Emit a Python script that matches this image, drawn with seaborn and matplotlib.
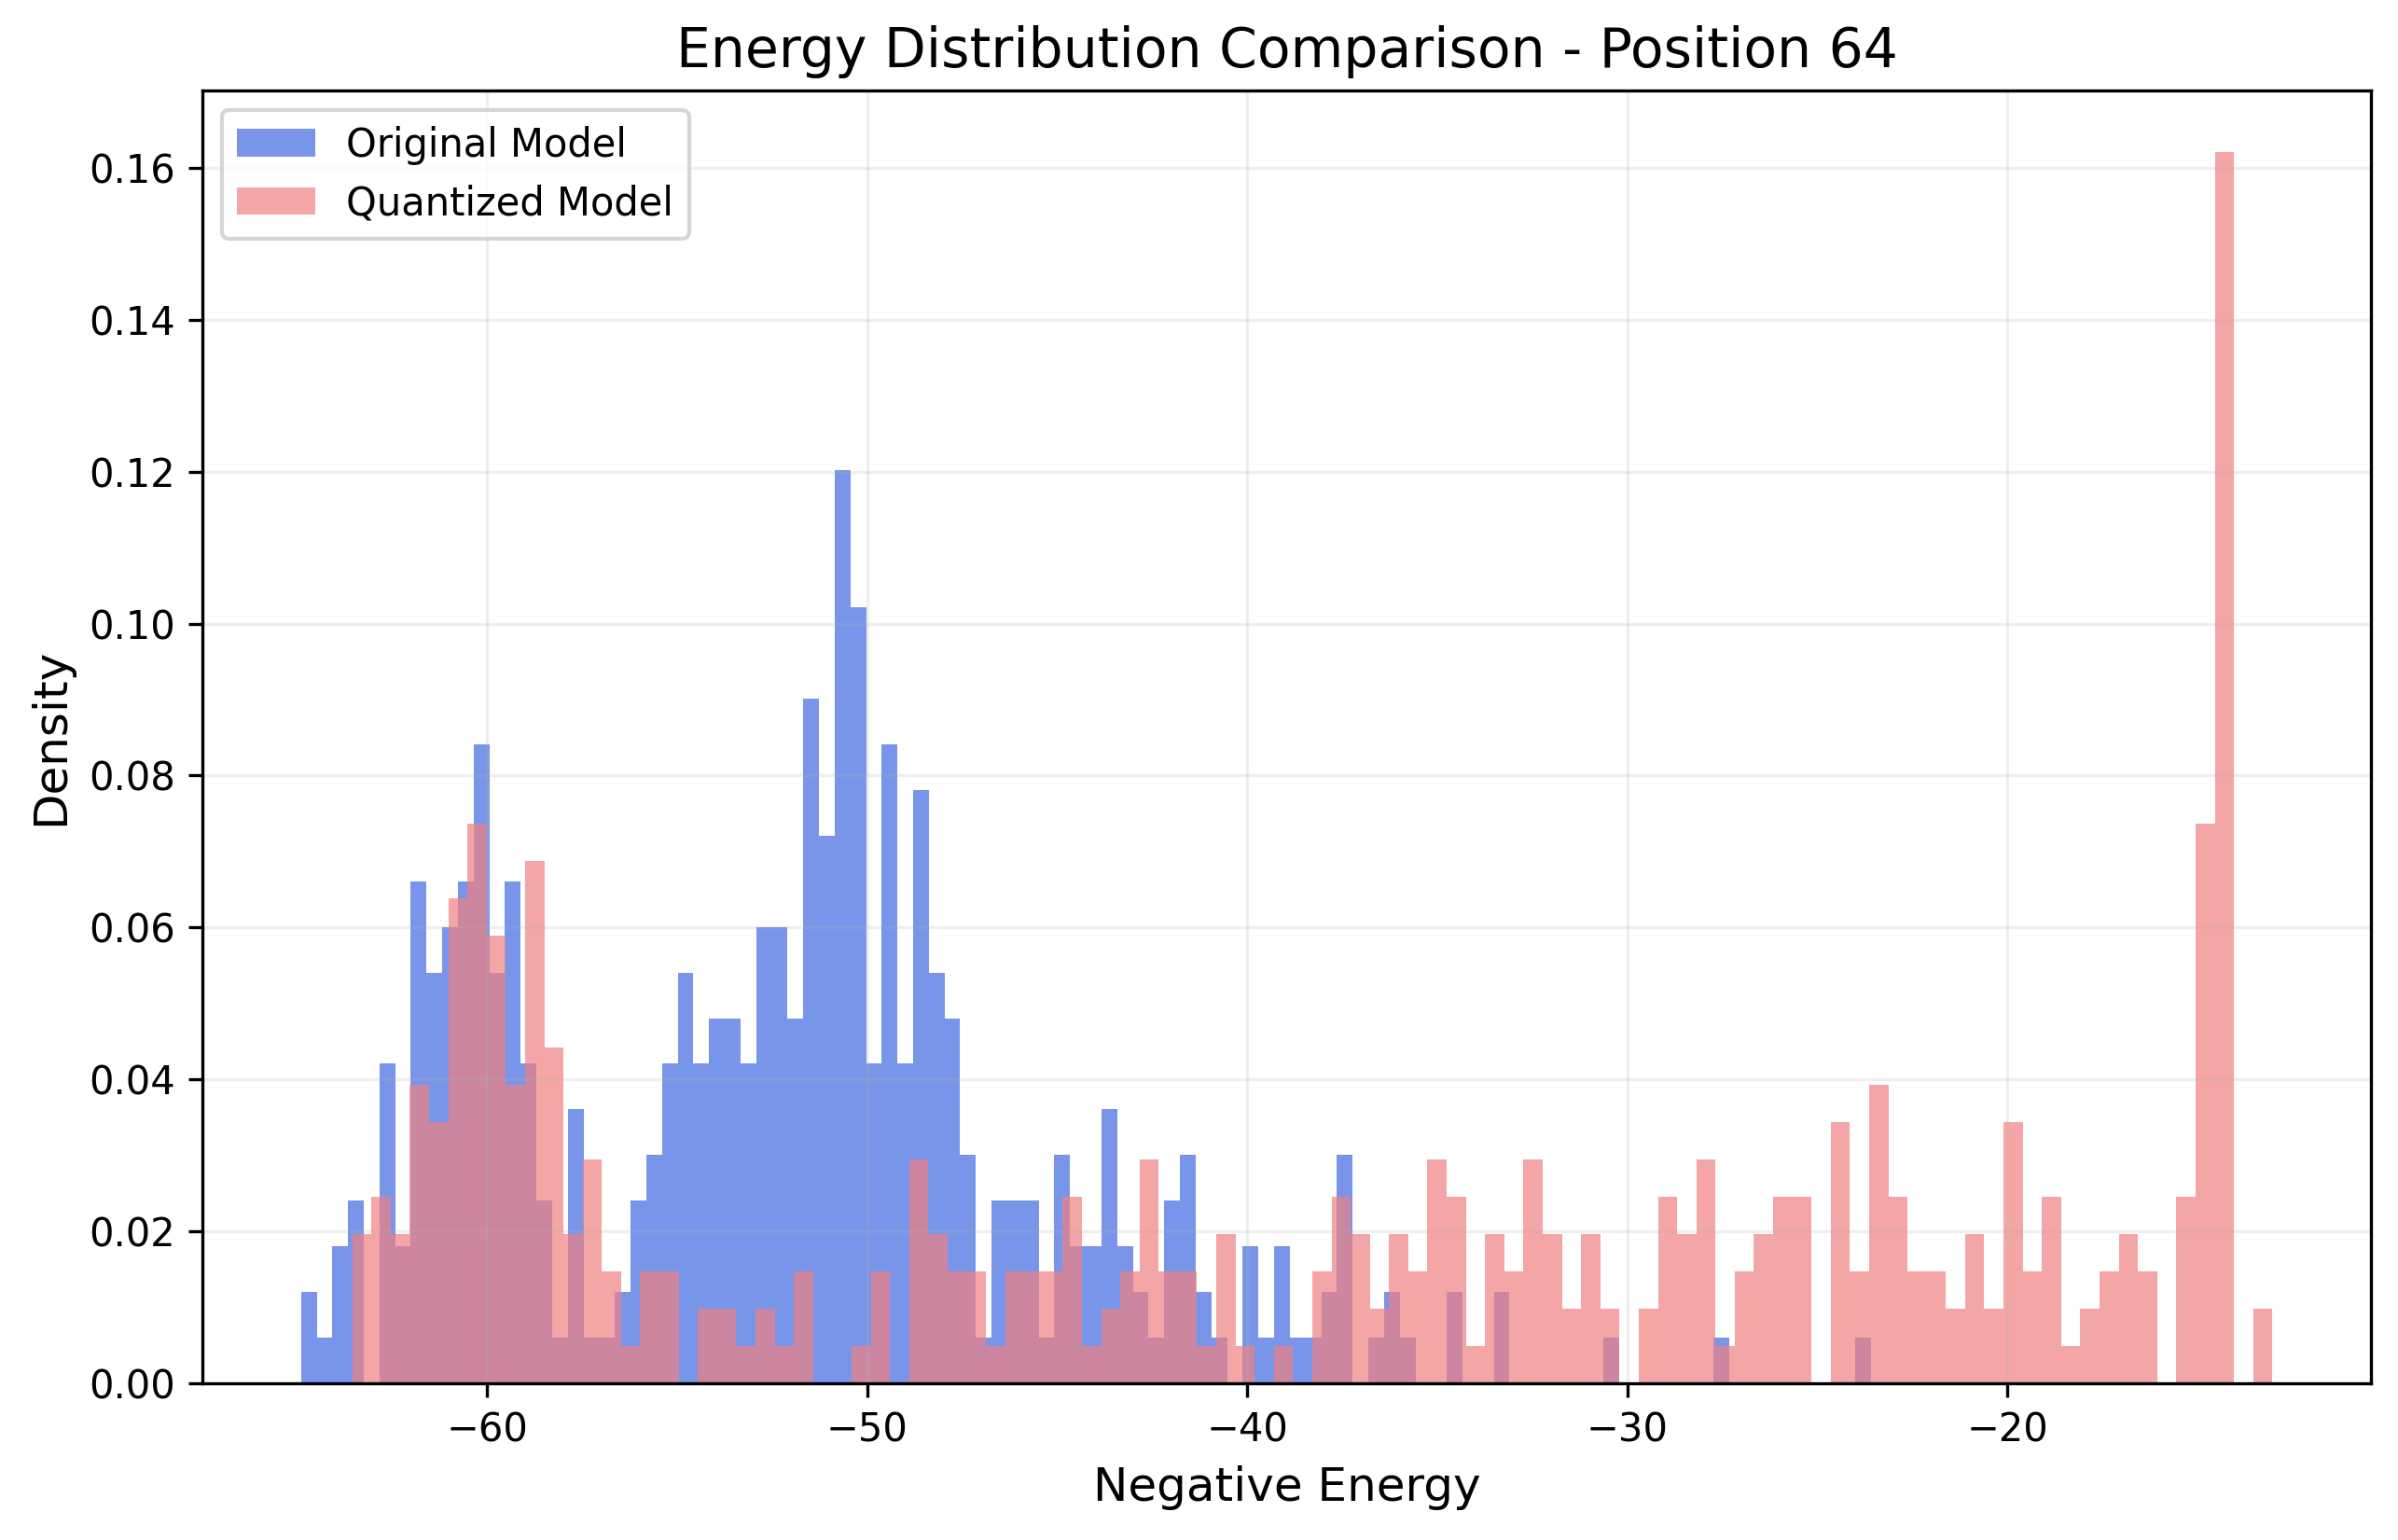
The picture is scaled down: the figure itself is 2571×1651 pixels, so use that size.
import numpy as np
import pandas as pd
import matplotlib
matplotlib.use("Agg")
import matplotlib.pyplot as plt
import seaborn as sns

# ---- data ----
# data range of each series (histogram spans min..max in 100 equal bins)
original_range = [-64.90, -23.60]
quantized_range = [-63.55, -13.03]

# sample counts per bin (density = count / (N * bin width))
original_counts = [
    2, 1, 3, 4, 0, 7, 3, 11, 9, 10,
    11, 14, 9, 11, 7, 4, 1, 6, 1, 1,
    2, 4, 5, 7, 9, 7, 8, 8, 7, 10,
    10, 8, 15, 12, 20, 17, 7, 14, 7, 13,
    9, 8, 5, 1, 4, 4, 4, 1, 5, 3,
    3, 6, 3, 2, 1, 4, 5, 2, 1, 0,
    3, 1, 3, 1, 1, 2, 5, 0, 1, 2,
    1, 0, 0, 2, 0, 0, 2, 0, 0, 0,
    0, 0, 0, 1, 0, 0, 0, 0, 0, 0,
    1, 0, 0, 0, 0, 0, 0, 0, 0, 1,
]
quantized_counts = [
    4, 5, 4, 8, 7, 13, 15, 12, 8, 14,
    9, 4, 6, 3, 1, 3, 3, 0, 2, 2,
    1, 2, 1, 3, 0, 0, 1, 3, 0, 6,
    4, 3, 3, 1, 3, 3, 3, 5, 1, 2,
    3, 6, 3, 3, 1, 4, 1, 0, 1, 0,
    3, 5, 4, 2, 4, 3, 6, 5, 1, 4,
    3, 6, 4, 2, 4, 2, 0, 2, 5, 4,
    6, 1, 3, 4, 5, 5, 0, 7, 3, 8,
    5, 3, 3, 2, 4, 2, 7, 3, 5, 1,
    2, 3, 4, 3, 0, 5, 15, 33, 0, 2,
]
series_labels = ["Original Model", "Quantized Model"]
series_colors = ["royalblue", "lightcoral"]

title = "Energy Distribution Comparison - Position 64"
x_label = "Negative Energy"
y_label = "Density"

# ---- figure ----
plt.rcParams['font.family'] = ['DejaVu Sans']
fig, ax = plt.subplots(figsize=(2571 / 300, 1651 / 300), dpi=300)
fig.subplots_adjust(left=0.0844, right=0.9887, bottom=0.1018, top=0.9412)


def draw(counts, rng, color, label):
    n = len(counts)
    edges = np.linspace(rng[0], rng[1], n + 1)
    df = pd.DataFrame({
        "value": (edges[:-1] + edges[1:]) / 2,
        "count": np.asarray(counts, dtype=float),
    })
    sns.histplot(data=df, x="value", weights="count", bins=list(edges),
                 stat="density", color=color, alpha=0.7, linewidth=0,
                 label=label, ax=ax)


draw(original_counts, original_range, series_colors[0], series_labels[0])
draw(quantized_counts, quantized_range, series_colors[1], series_labels[1])

ax.set_title(title, fontsize=14)
ax.set_xlabel(x_label, fontsize=12)
ax.set_ylabel(y_label, fontsize=12)
ax.grid(True, alpha=0.2)
ax.legend(loc="upper left")

fig.savefig("out.png", dpi=300)
